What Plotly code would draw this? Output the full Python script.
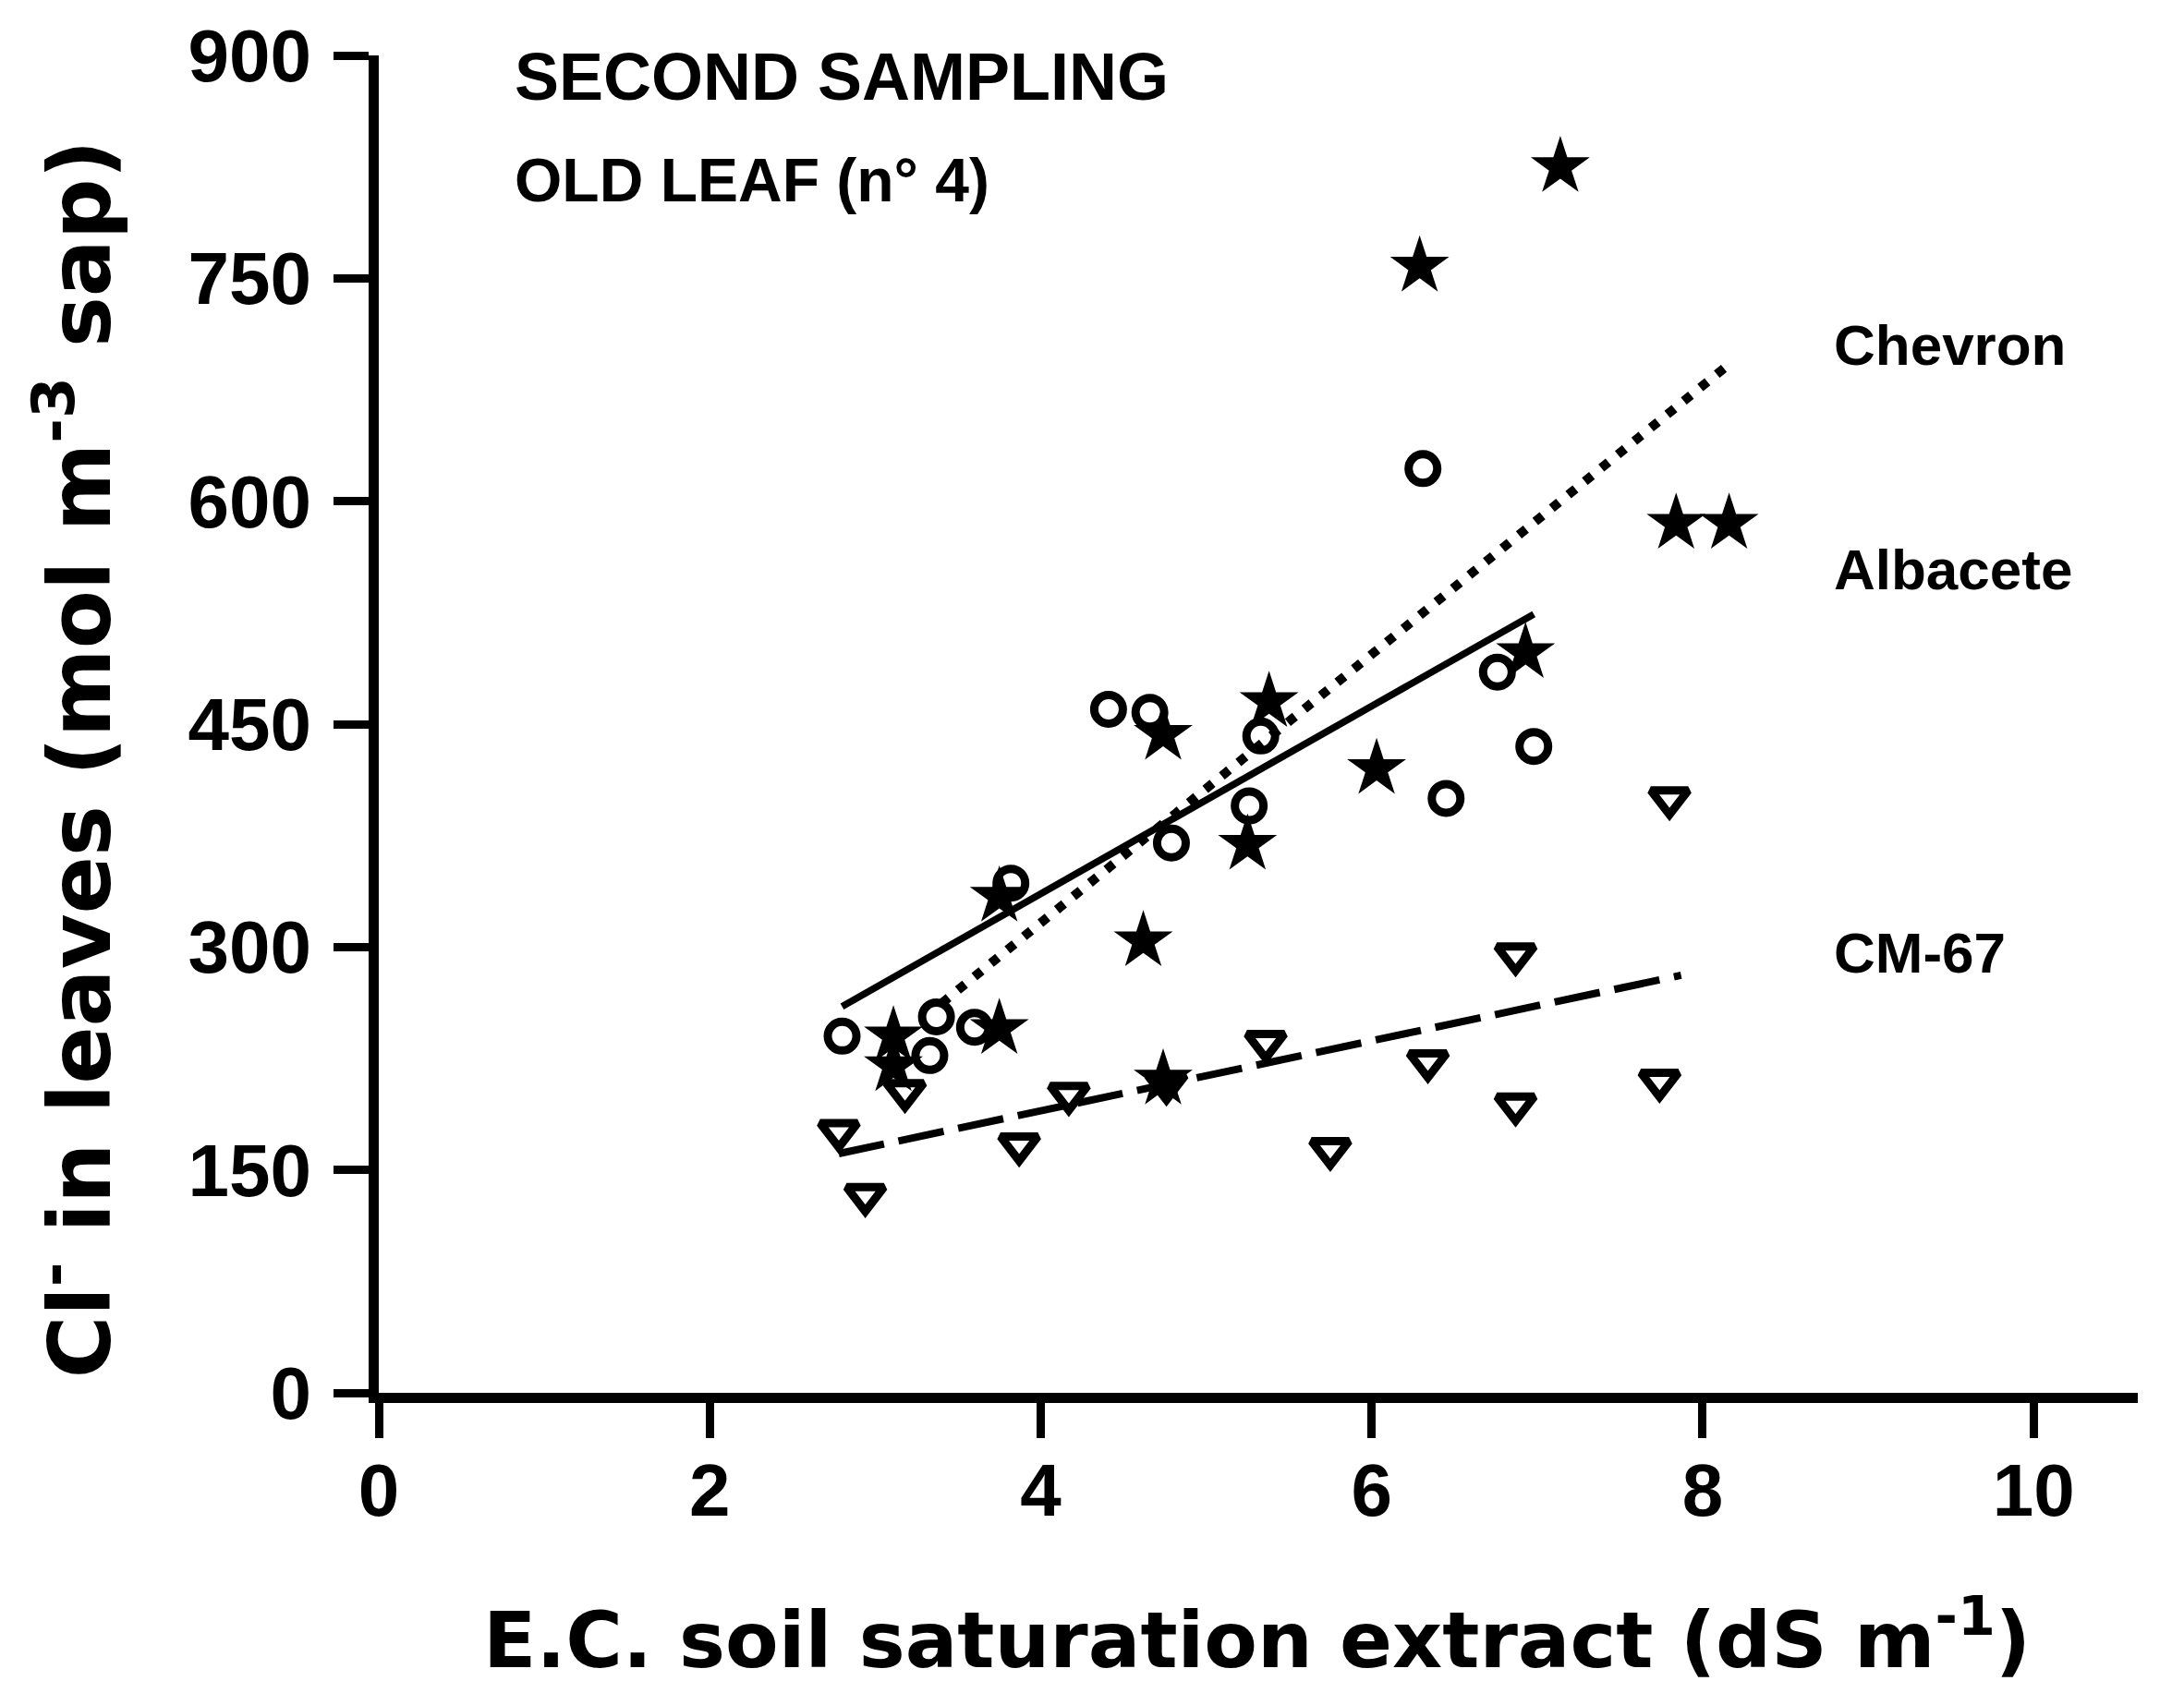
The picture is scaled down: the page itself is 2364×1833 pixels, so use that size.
import plotly.graph_objects as go

# ---- data ----
star_x = [7.14, 6.29, 7.84, 8.16, 6.93, 5.38, 4.74, 6.03, 5.25, 4.62, 3.75, 3.75, 3.11, 3.11, 4.74]
star_y = [825, 758, 585, 585, 498, 465, 443, 420, 369, 304, 334, 245, 240, 220, 211]

circ_x = [6.31, 4.41, 4.66, 5.33, 6.76, 6.98, 6.45, 5.26, 4.79, 3.82, 2.80, 3.37, 3.33, 3.60]
circ_y = [622, 460, 458, 442, 485, 435, 400, 395, 370, 343, 240, 253, 227, 246]

tri_x = [2.78, 2.94, 3.18, 3.87, 4.17, 4.76, 5.36, 5.75, 6.34, 6.87, 6.87, 7.80, 7.74]
tri_y = [176, 133, 203, 167, 201, 208, 236, 164, 223, 295, 194, 400, 210]

chevron_fit_x = [3.40, 8.18]
chevron_fit_y = [262, 694]
albacete_fit_x = [2.80, 6.98]
albacete_fit_y = [260, 524]
cm67_fit_x = [2.78, 7.87]
cm67_fit_y = [161, 281]

x_ticks = [0, 2, 4, 6, 8, 10]
y_ticks = [0, 150, 300, 450, 600, 750, 900]

FONT = "Liberation Sans"
WIDE = "DejaVu Sans"

fig = go.Figure()

fig.add_trace(go.Scatter(x=chevron_fit_x, y=chevron_fit_y, mode="lines",
                         line=dict(color="black", width=10, dash="10px,13px")))
fig.add_trace(go.Scatter(x=albacete_fit_x, y=albacete_fit_y, mode="lines",
                         line=dict(color="black", width=7.5)))
fig.add_trace(go.Scatter(x=cm67_fit_x, y=cm67_fit_y, mode="lines",
                         line=dict(color="black", width=8, dash="50px,16px")))

fig.add_trace(go.Scatter(x=tri_x, y=tri_y, mode="markers",
                         marker=dict(symbol="triangle-down-open", size=35,
                                     color="black", line=dict(color="black", width=9))))
fig.add_trace(go.Scatter(x=circ_x, y=circ_y, mode="markers",
                         marker=dict(symbol="circle-open", size=31,
                                     color="black", line=dict(color="black", width=9))))
fig.add_trace(go.Scatter(x=star_x, y=star_y, mode="markers",
                         marker=dict(symbol="star", size=48, color="black",
                                     line=dict(width=0))))

fig.update_layout(
    width=2364, height=1833,
    margin=dict(l=410, r=50, t=60, b=325),
    paper_bgcolor="white", plot_bgcolor="white",
    showlegend=False,
    font=dict(family=FONT, color="black"),
    xaxis=dict(range=[0, 10.63], tickvals=x_ticks, ticktext=[str(v) for v in x_ticks],
               showline=True, linewidth=11, linecolor="black", ticks="outside",
               ticklen=38, tickwidth=9, tickcolor="black", showgrid=False,
               zeroline=False, ticklabelstandoff=-12,
               tickfont=dict(size=80, family=FONT, weight="bold")),
    yaxis=dict(range=[0, 900], tickvals=y_ticks, ticktext=[str(v) for v in y_ticks],
               showline=True, linewidth=11, linecolor="black", ticks="outside",
               ticklen=38, tickwidth=9, tickcolor="black", showgrid=False,
               zeroline=False, ticklabelstandoff=8,
               tickfont=dict(size=80, family=FONT, weight="bold")),
)

annos = [
    dict(x=0.81, y=886, text="SECOND SAMPLING", size=72),
    dict(x=0.81, y=816, text="OLD LEAF (n° 4)", size=66),
    dict(x=8.78, y=705, text="Chevron", size=62),
    dict(x=8.78, y=554, text="Albacete", size=62),
    dict(x=8.78, y=296, text="CM-67", size=62),
]
for a in annos:
    fig.add_annotation(x=a["x"], y=a["y"], xref="x", yref="y", text=a["text"],
                       showarrow=False, xanchor="left", yanchor="middle",
                       font=dict(size=a["size"], family=FONT, color="black", weight="bold"))

fig.add_annotation(x=0.499, y=-0.181, xref="paper", yref="paper",
                   xanchor="center", yanchor="middle", showarrow=False,
                   text="E.C. soil saturation extract (dS m<sup>-1</sup>)",
                   font=dict(size=84, family=WIDE, color="black", weight="bold"))
fig.add_annotation(x=-0.173, y=0.474, xref="paper", yref="paper",
                   xanchor="center", yanchor="middle", showarrow=False, textangle=-90,
                   text="Cl<sup>-</sup> in leaves (mol m<sup>-3</sup> sap)",
                   font=dict(size=92, family=WIDE, color="black", weight="bold"))

fig.write_html("out.html")
